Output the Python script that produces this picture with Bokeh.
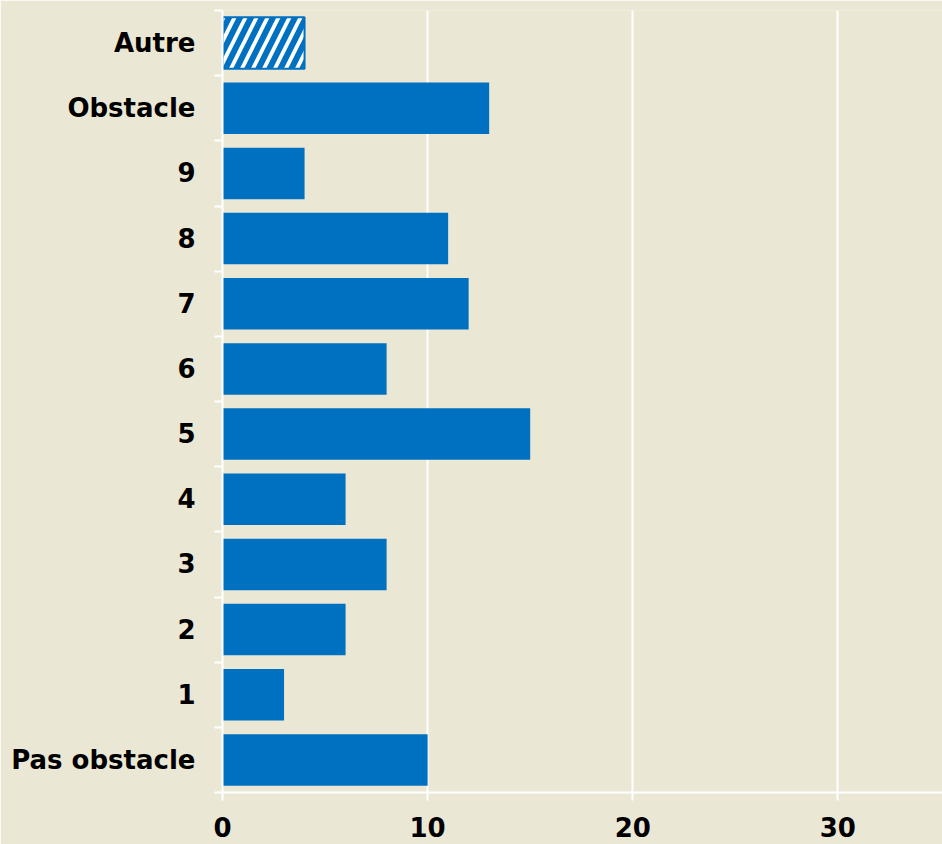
from bokeh.plotting import figure
from bokeh.models import FixedTicker, Range1d
from bokeh.embed import file_html
from bokeh.resources import INLINE

categories = ["Pas obstacle", "1", "2", "3", "4", "5", "6", "7", "8", "9", "Obstacle", "Autre"]
values = [10, 3, 6, 8, 6, 15, 8, 12, 11, 4, 13, 4]
hatched = [False] * 11 + [True]
x_ticks = [0, 10, 20, 30]

BG = "#EBE7D5"
BLUE = "#0070C0"
FONT = "DejaVu Sans"

p = figure(width=942, height=844, output_backend="svg", toolbar_location=None,
           frame_width=720, frame_height=782,
           x_range=Range1d(0, 35.1), y_range=Range1d(-0.5, len(categories) - 0.5),
           min_border_left=222, min_border_top=10, min_border_right=0, min_border_bottom=52)
p.background_fill_color = BG
p.border_fill_color = BG
p.outline_line_color = None

pos = list(range(len(categories)))
solid_y = [y for y, h in zip(pos, hatched) if not h]
solid_v = [v for v, h in zip(values, hatched) if not h]
hat_y = [y for y, h in zip(pos, hatched) if h]
hat_v = [v for v, h in zip(values, hatched) if h]

p.hbar(y=solid_y, right=solid_v, left=0, height=0.79, fill_color=BLUE, line_color=None)
p.hbar(y=hat_y, right=hat_v, left=0, height=0.79, fill_color="white", line_color=BLUE,
       line_width=2, hatch_pattern="/", hatch_color=BLUE, hatch_scale=22, hatch_weight=6)

# axes
p.xaxis.ticker = FixedTicker(ticks=x_ticks)
p.xaxis.axis_line_color = "white"
p.xaxis.axis_line_width = 2
p.xaxis.major_tick_line_color = "white"
p.xaxis.major_tick_line_width = 2
p.xaxis.major_tick_out = 8
p.xaxis.major_tick_in = 0
p.xaxis.minor_tick_line_color = None
p.xaxis.major_label_text_font = FONT
p.xaxis.major_label_text_font_style = "bold"
p.xaxis.major_label_text_font_size = "26px"
p.xaxis.major_label_text_color = "black"
p.xaxis.major_label_standoff = 16

p.yaxis.ticker = FixedTicker(ticks=pos, minor_ticks=[i - 0.5 for i in range(len(categories) + 1)])
p.yaxis.major_label_overrides = {i: c for i, c in enumerate(categories)}
p.yaxis.axis_line_color = "white"
p.yaxis.axis_line_width = 2
p.yaxis.major_tick_line_color = None
p.yaxis.major_tick_out = 0
p.yaxis.major_tick_in = 0
p.yaxis.minor_tick_line_color = "white"
p.yaxis.minor_tick_line_width = 2
p.yaxis.minor_tick_out = 8
p.yaxis.minor_tick_in = 0
p.yaxis.major_label_text_font = FONT
p.yaxis.major_label_text_font_style = "bold"
p.yaxis.major_label_text_font_size = "26px"
p.yaxis.major_label_text_color = "black"
p.yaxis.major_label_standoff = 19

p.xgrid.ticker = FixedTicker(ticks=x_ticks)
p.xgrid.grid_line_color = "white"
p.xgrid.grid_line_width = 2
p.ygrid.grid_line_color = None

open("out.html", "w").write(file_html(p, INLINE))
